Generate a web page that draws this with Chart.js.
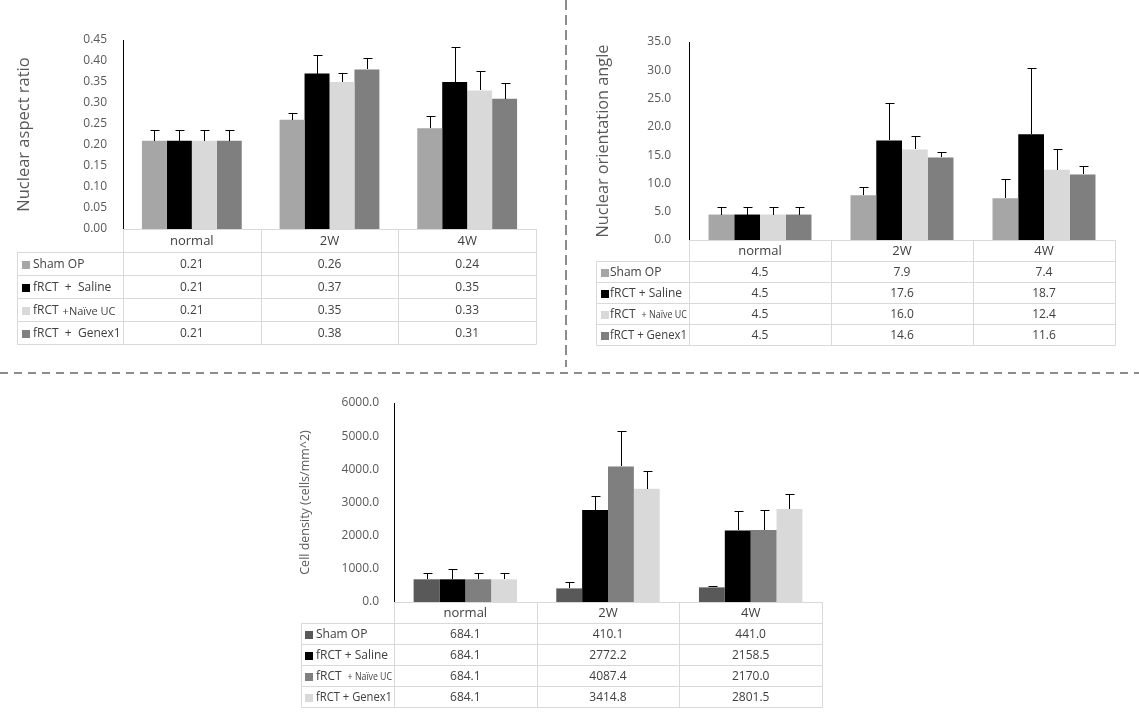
<!DOCTYPE html>
<html><head><meta charset="utf-8">
<script src="https://cdn.jsdelivr.net/npm/chart.js@4.4.1/dist/chart.umd.min.js"></script>
<style>
html,body{margin:0;padding:0;background:#fff;width:1139px;height:720px;overflow:hidden;position:relative}
canvas{position:absolute}
svg{position:absolute;left:0;top:0}
</style></head><body>
<svg width="1139" height="720">
  <line x1="566" y1="0" x2="566" y2="367" stroke="#8c8c8c" stroke-width="2" stroke-dasharray="10,5"/>
  <line x1="0" y1="373" x2="1139" y2="373" stroke="#8c8c8c" stroke-width="2" stroke-dasharray="8,6"/>
</svg>
<canvas id="c1" width="560" height="360" style="left:0;top:0"></canvas>
<canvas id="c2" width="560" height="360" style="left:570px;top:0"></canvas>
<canvas id="c3" width="560" height="340" style="left:280px;top:380px"></canvas>
<script>
// ---- data ----
const categories = ['normal', '2W', '4W'];
const seriesNames = ['Sham OP', 'fRCT + Saline', 'fRCT + Naïve UC', 'fRCT + Genex1'];

// Nuclear aspect ratio
const ratioSham   = [0.21, 0.26, 0.24];
const ratioSaline = [0.21, 0.37, 0.35];
const ratioNaive  = [0.21, 0.35, 0.33];
const ratioGenex  = [0.21, 0.38, 0.31];
const ratioErrSham   = [0.026, 0.016, 0.030];
const ratioErrSaline = [0.026, 0.045, 0.083];
const ratioErrNaive  = [0.026, 0.022, 0.047];
const ratioErrGenex  = [0.026, 0.028, 0.038];
const ratioTicks = ['0.00','0.05','0.10','0.15','0.20','0.25','0.30','0.35','0.40','0.45'];

// Nuclear orientation angle
const angleSham   = [4.5, 7.9, 7.4];
const angleSaline = [4.5, 17.6, 18.7];
const angleNaive  = [4.5, 16.0, 12.4];
const angleGenex  = [4.5, 14.6, 11.6];
const angleErrSham   = [1.4, 1.4, 3.4];
const angleErrSaline = [1.4, 6.7, 11.7];
const angleErrNaive  = [1.4, 2.4, 3.6];
const angleErrGenex  = [1.4, 0.95, 1.4];
const angleTicks = ['0.0','5.0','10.0','15.0','20.0','25.0','30.0','35.0'];

// Cell density
const densSham   = [684.1, 410.1, 441.0];
const densSaline = [684.1, 2772.2, 2158.5];
const densNaive  = [684.1, 4087.4, 2170.0];
const densGenex  = [684.1, 3414.8, 2801.5];
const densErrSham   = [181, 181, 50];
const densErrSaline = [302, 412, 593];
const densErrNaive  = [181, 1055, 613];
const densErrGenex  = [181, 533, 442];
const densTicks = ['0.0','1000.0','2000.0','3000.0','4000.0','5000.0','6000.0'];

const FONT = "'Open Sans', 'Noto Sans', sans-serif";

// ---- plugins ----
const errorBars = {
  id: 'errorBars',
  afterDatasetsDraw(chart) {
    const ctx = chart.ctx, y = chart.scales.y;
    ctx.save();
    ctx.strokeStyle = '#000'; ctx.lineWidth = 1;
    chart.data.datasets.forEach((ds, di) => {
      const meta = chart.getDatasetMeta(di);
      meta.data.forEach((bar, i) => {
        const v = ds.data[i], e = ds.errors[i];
        const xp = Math.round(bar.x) + 0.5;
        const yt = Math.round(y.getPixelForValue(v + e)) + 0.5;
        const yb = Math.round(bar.y);
        ctx.beginPath();
        ctx.moveTo(xp, yb); ctx.lineTo(xp, yt);
        ctx.moveTo(xp - 4, yt); ctx.lineTo(xp + 5, yt);
        ctx.stroke();
      });
    });
    ctx.restore();
  }
};

function drawName(ctx, name, x, yc, wide, maxW) {
  ctx.textAlign = 'left';
  if (name.indexOf('Naïve') >= 0) {
    ctx.font = `12px ${FONT}`;
    ctx.fillText('fRCT', x, yc);
    const w = ctx.measureText('fRCT').width;
    const x2 = x + w + (wide ? 4 : 6);
    ctx.font = `${wide ? 11 : 10}px ${FONT}`;
    ctx.fillText(wide ? '+Naïve UC' : '+ Naïve UC', x2, yc + 1, x + maxW - x2);
  } else if (wide && name.indexOf('+') >= 0) {
    ctx.font = `12px ${FONT}`;
    ctx.fillText(name.replace(' + ', '  +  '), x, yc, maxW);
  } else {
    ctx.font = `12px ${FONT}`;
    ctx.fillText(name, x, yc, maxW);
  }
}

const dataTable = {
  id: 'dataTable',
  afterDraw(chart, args, o) {
    const ctx = chart.ctx, ca = chart.chartArea, xs = chart.scales.x;
    const n = categories.length;
    const cw = (ca.right - ca.left) / n;
    const rh = o.rowH, top = Math.round(ca.bottom), nrows = seriesNames.length;
    const bottom = top + rh * (nrows + 1);
    const L = o.left + 0.5, R = Math.round(ca.right) + 0.5;
    ctx.save();
    ctx.strokeStyle = '#d9d9d9'; ctx.lineWidth = 1;
    ctx.beginPath();
    ctx.moveTo(Math.round(ca.left), top + 0.5); ctx.lineTo(R, top + 0.5);
    for (let r = 1; r <= nrows + 1; r++) {
      const yy = top + rh * r + 0.5;
      ctx.moveTo(L, yy); ctx.lineTo(R, yy);
    }
    for (let k = 0; k <= n; k++) {
      const xx = Math.round(ca.left + k * cw) + 0.5;
      ctx.moveTo(xx, top); ctx.lineTo(xx, bottom + 0.5);
    }
    ctx.moveTo(L, top + rh); ctx.lineTo(L, bottom + 0.5);
    ctx.stroke();
    ctx.textBaseline = 'middle';
    ctx.fillStyle = '#404040';
    ctx.textAlign = 'center';
    ctx.font = `13px ${FONT}`;
    categories.forEach((c, i) => ctx.fillText(c, xs.getPixelForValue(i), top + rh / 2 + 1));
    chart.data.datasets.forEach((ds, r) => {
      const yc = top + rh * (r + 1) + rh / 2 + 1;
      ctx.fillStyle = ds.backgroundColor;
      ctx.fillRect(o.left + o.swX, Math.round(yc - 4), 8, 8);
      ctx.fillStyle = '#404040';
      const tx = o.left + o.txX;
      drawName(ctx, ds.label, tx, yc, o.wide, Math.round(ca.left) - tx - 2);
      ctx.textAlign = 'center';
      ctx.font = `12px ${FONT}`;
      ds.data.forEach((v, i) => ctx.fillText(v.toFixed(o.dec), xs.getPixelForValue(i), yc));
    });
    ctx.restore();
  }
};

function build(id, c) {
  const datasets = c.series.map((vals, i) => ({
    label: seriesNames[i], data: vals, errors: c.errors[i],
    backgroundColor: c.colors[i], borderWidth: 0,
    barPercentage: 1, categoryPercentage: 0.725
  }));
  return new Chart(document.getElementById(id), {
    type: 'bar',
    data: { labels: categories, datasets },
    options: {
      responsive: false, animation: false,
      layout: { padding: c.pad },
      plugins: {
        legend: { display: false }, tooltip: { enabled: false },
        dataTable: { rowH: c.rowH, left: c.tableLeft, dec: c.dec, wide: c.wide, swX: c.swX, txX: c.txX }
      },
      scales: {
        x: { display: false },
        y: {
          min: 0, max: c.max,
          afterFit: s => { s.width = c.axisW; },
          afterBuildTicks: s => { s.ticks = c.ticks.map(t => ({ value: parseFloat(t) })); },
          ticks: { padding: c.tickPad, color: '#595959', font: { family: FONT, size: 12 },
                   callback: (v, i) => c.ticks[i] },
          grid: { display: false, drawTicks: false },
          border: { display: true, color: '#000', width: 1 },
          title: { display: true, text: c.title, color: '#595959',
                   font: { family: FONT, size: c.titleSize }, padding: { top: c.titlePad, bottom: 0 } }
        }
      }
    },
    plugins: [errorBars, dataTable]
  });
}

build('c1', {
  series: [ratioSham, ratioSaline, ratioNaive, ratioGenex],
  errors: [ratioErrSham, ratioErrSaline, ratioErrNaive, ratioErrGenex],
  colors: ['#a6a6a6', '#000000', '#d9d9d9', '#7f7f7f'],
  max: 0.45, ticks: ratioTicks, dec: 2, wide: true,
  pad: { left: 0, top: 40, right: 24, bottom: 131 },
  axisW: 123, tickPad: 16, rowH: 23, tableLeft: 17, swX: 5, txX: 16,
  title: 'Nuclear aspect ratio', titleSize: 16.5, titlePad: 14.5
});
build('c2', {
  series: [angleSham, angleSaline, angleNaive, angleGenex],
  errors: [angleErrSham, angleErrSaline, angleErrNaive, angleErrGenex],
  colors: ['#a6a6a6', '#000000', '#d9d9d9', '#7f7f7f'],
  max: 35, ticks: angleTicks, dec: 1, wide: false,
  pad: { left: 0, top: 42, right: 15, bottom: 120 },
  axisW: 119, tickPad: 18, rowH: 21, tableLeft: 26, swX: 5, txX: 14,
  title: 'Nuclear orientation angle', titleSize: 16.3, titlePad: 23.5
});
build('c3', {
  series: [densSham, densSaline, densNaive, densGenex],
  errors: [densErrSham, densErrSaline, densErrNaive, densErrGenex],
  colors: ['#595959', '#000000', '#7f7f7f', '#d9d9d9'],
  max: 6000, ticks: densTicks, dec: 1, wide: false,
  pad: { left: 0, top: 23, right: 18, bottom: 118 },
  axisW: 114, tickPad: 15, rowH: 21, tableLeft: 21, swX: 4, txX: 15,
  title: 'Cell density (cells/mm^2)', titleSize: 12.5, titlePad: 17.5
});
</script>
</body></html>
